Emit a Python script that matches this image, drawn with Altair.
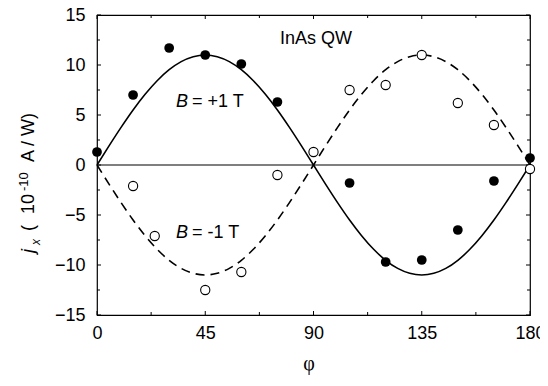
import altair as alt
import pandas as pd

# ---- data ----
phi_pts = [0, 15, 30, 45, 60, 75, 105, 120, 135, 150, 165, 180]
b_plus = [1.3, 7.0, 11.7, 11.0, 10.1, 6.3, -1.8, -9.7, -9.5, -6.5, -1.6, 0.7]

phi_open = [15, 24, 45, 60, 75, 90, 105, 120, 135, 150, 165, 180]
b_minus = [-2.1, -7.1, -12.5, -10.7, -1.0, 1.3, 7.5, 8.0, 11.0, 6.2, 4.0, -0.4]

phi_curve = list(range(0, 181, 5))
fit_plus = [0, 1.91, 3.76, 5.5, 7.07, 8.43, 9.53, 10.34, 10.83, 11.0, 10.83, 10.34, 9.53,
            8.43, 7.07, 5.5, 3.76, 1.91, 0, -1.91, -3.76, -5.5, -7.07, -8.43, -9.53,
            -10.34, -10.83, -11.0, -10.83, -10.34, -9.53, -8.43, -7.07, -5.5, -3.76, -1.91, 0]
fit_minus = [-v for v in fit_plus]

x_major = [0, 45, 90, 135, 180]
x_minor = [22.5, 67.5, 112.5, 157.5]
y_major = [-15, -10, -5, 0, 5, 10, 15]
y_minor = [-12.5, -7.5, -2.5, 2.5, 7.5, 12.5]

ann_text = ["InAs QW"]
ann_x = [91]
ann_y = [12.65]

lab_x = [38.7, 38.7]
lab_y = [6.35, -6.8]
lab_b = ["B", "B"]
lab_rest = ["= +1 T", "= -1 T"]

x_title = "φ"

W, H = 433, 300
FONT = "Liberation Sans"

xs = alt.Scale(domain=[0, 180], nice=False, zero=False)
ys = alt.Scale(domain=[-15, 15], nice=False, zero=False)

df_plus = pd.DataFrame({"phi": phi_pts, "j": b_plus})
df_minus = pd.DataFrame({"phi": phi_open, "j": b_minus})
df_curve = pd.DataFrame({"phi": phi_curve, "p": fit_plus, "m": fit_minus})

xaxis = alt.Axis(values=x_major, domain=False, ticks=False, grid=False, labelFont=FONT,
                 labelFontSize=18, labelColor="black", labelPadding=9, title=None,
                 labelFlush=False)
yaxis = alt.Axis(values=y_major, domain=False, ticks=False, grid=False, labelFont=FONT,
                 labelFontSize=18, labelColor="black", labelPadding=12, title=None)

base = alt.Chart(df_curve)

zero_line = alt.Chart(pd.DataFrame({"y": [0]})).mark_rule(color="black", strokeWidth=1.2).encode(
    y=alt.Y("y:Q", scale=ys, axis=yaxis))

curve_p = base.mark_line(color="black", strokeWidth=1.6, interpolate="monotone").encode(
    x=alt.X("phi:Q", scale=xs, axis=xaxis), y=alt.Y("p:Q", scale=ys))
curve_m = base.mark_line(color="black", strokeWidth=1.6, strokeDash=[9, 6],
                         interpolate="monotone").encode(
    x=alt.X("phi:Q", scale=xs), y=alt.Y("m:Q", scale=ys))

pts_p = alt.Chart(df_plus).mark_circle(color="black", opacity=1, size=95).encode(
    x=alt.X("phi:Q", scale=xs), y=alt.Y("j:Q", scale=ys))
pts_m = alt.Chart(df_minus).mark_point(shape="circle", color="black", fill="white",
                                        filled=False, opacity=1, size=85,
                                        strokeWidth=1.1).encode(
    x=alt.X("phi:Q", scale=xs), y=alt.Y("j:Q", scale=ys))

# inward ticks on all four sides
def xticks(vals, ln):
    d = pd.DataFrame({"v": vals})
    bot = alt.Chart(d).mark_rule(color="black", strokeWidth=1).encode(
        x=alt.X("v:Q", scale=xs), y=alt.value(H), y2=alt.value(H - ln))
    top = alt.Chart(d).mark_rule(color="black", strokeWidth=1).encode(
        x=alt.X("v:Q", scale=xs), y=alt.value(0), y2=alt.value(ln))
    return [bot, top]

def yticks(vals, ln):
    d = pd.DataFrame({"v": vals})
    left = alt.Chart(d).mark_rule(color="black", strokeWidth=1).encode(
        y=alt.Y("v:Q", scale=ys), x=alt.value(0), x2=alt.value(ln))
    right = alt.Chart(d).mark_rule(color="black", strokeWidth=1).encode(
        y=alt.Y("v:Q", scale=ys), x=alt.value(W), x2=alt.value(W - ln))
    return [left, right]

tick_layers = xticks(x_major, 4) + xticks(x_minor, 3) + yticks(y_major, 4) + yticks(y_minor, 3)

ann = alt.Chart(pd.DataFrame({"x": ann_x, "y": ann_y, "t": ann_text})).mark_text(
    font=FONT, fontSize=18, color="black", align="center", baseline="middle").encode(
    x=alt.X("x:Q", scale=xs), y=alt.Y("y:Q", scale=ys), text="t:N")

lab_df = pd.DataFrame({"x": lab_x, "y": lab_y, "b": lab_b, "r": lab_rest})
lab_b_layer = alt.Chart(lab_df).mark_text(
    font=FONT, fontSize=18, fontStyle="italic", color="black", align="right",
    baseline="middle", dx=-2).encode(
    x=alt.X("x:Q", scale=xs), y=alt.Y("y:Q", scale=ys), text="b:N")
lab_r_layer = alt.Chart(lab_df).mark_text(
    font=FONT, fontSize=18, color="black", align="left", baseline="middle", dx=2).encode(
    x=alt.X("x:Q", scale=xs), y=alt.Y("y:Q", scale=ys), text="r:N")

one = pd.DataFrame({"k": [0]})

# x-axis title
xtitle_layer = alt.Chart(one).mark_text(
    text=x_title, font="Liberation Serif", fontSize=20, color="black", align="center",
    baseline="alphabetic").encode(x=alt.value(212), y=alt.value(355))

# y-axis title pieces: j (italic), x (subscript), ( , 10, -10 (superscript), A / W)
title_parts = [
    ("j", 18, "italic", -63, 238),
    ("x", 12, "italic", -57, 230),
    ("(", 18, "normal", -63, 216),
    ("10", 18, "normal", -63, 199),
    ("-10", 13, "normal", -69, 176),
    ("A / W)", 18, "normal", -63, 147),
]
title_layers = []
for txt, fs, st, px, py in title_parts:
    title_layers.append(
        alt.Chart(one).mark_text(text=txt, font=FONT, fontSize=fs, fontStyle=st,
                                 color="black", angle=270, align="left",
                                 baseline="alphabetic").encode(
            x=alt.value(px), y=alt.value(py)))

chart = alt.layer(
    zero_line, curve_p, curve_m, *tick_layers, pts_m, pts_p, ann, lab_b_layer, lab_r_layer,
    xtitle_layer, *title_layers
).properties(
    width=W, height=H,
    autosize=alt.AutoSizeParams(type="none"),
    padding={"left": 89, "top": 7, "right": 10, "bottom": 60},
    background="white",
).configure_view(stroke="black", strokeWidth=1.2)

chart.save("out.html", embed_options={"renderer": "svg", "actions": False})
